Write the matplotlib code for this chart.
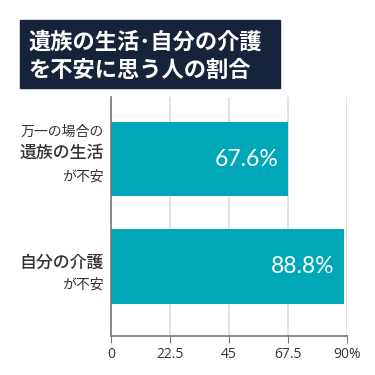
import matplotlib.pyplot as plt
from matplotlib.patches import Rectangle
from matplotlib.transforms import blended_transform_factory

plt.rcParams['font.family'] = ['Noto Sans CJK JP', 'DejaVu Sans']

# data
categories = ['遺族の生活', '自分の介護']
values = [67.6, 88.8]
value_labels = ['67.6%', '88.8%']
ticks = [0, 22.5, 45, 67.5, 90]
tick_labels = ['0', '22.5', '45', '67.5', '90%']
title_lines = ['遺族の生活･自分の介護', 'を不安に思う人の割合']

bar_color = '#00a7b9'
navy = '#17233a'

fig = plt.figure(figsize=(3.75, 3.75), dpi=100)
ax = fig.add_axes([0.296, 0.104, 0.629, 0.637])

ypos = [0, 1]
ax.barh(ypos, values, height=0.69, color=bar_color, zorder=2)
ax.set_ylim(1.647, -0.577)
ax.set_xlim(0, 90)

for y, v, lab in zip(ypos, values, value_labels):
    ax.text(v - 3.5, y, lab, ha='right', va='center', color='white',
            fontsize=16.5, family=['Lato', 'DejaVu Sans'], zorder=3)

ax.set_xticks(ticks)
ax.set_xticklabels(tick_labels, fontsize=10, color='#333333',
                   family=['Open Sans', 'DejaVu Sans'])
ax.set_yticks([])
ax.grid(axis='x', color='#dddddd', lw=1.2, zorder=0)
ax.tick_params(axis='x', length=5, color='#777777', pad=3)
for s in ['top', 'right']:
    ax.spines[s].set_visible(False)
for s in ['left', 'bottom']:
    ax.spines[s].set_color('#777777')
    ax.spines[s].set_linewidth(1.2)

# category labels (multi-line with mixed sizes)
tr = blended_transform_factory(fig.transFigure, ax.transData)
lx = 104 / 375
lab_color = '#333333'
ax.text(lx, -0.25, '万一の場合の', transform=tr, ha='right', va='center',
        fontsize=10, color=lab_color)
ax.text(lx, -0.055, categories[0], transform=tr, ha='right', va='center',
        fontsize=12.2, fontweight='medium', color=lab_color)
ax.text(lx, 0.158, 'が不安', transform=tr, ha='right', va='center',
        fontsize=10, color=lab_color)
ax.text(lx, 1 - 0.033, categories[1], transform=tr, ha='right', va='center',
        fontsize=12.2, fontweight='medium', color=lab_color)
ax.text(lx, 1 + 0.172, 'が不安', transform=tr, ha='right', va='center',
        fontsize=10, color=lab_color)

# title box
fig.patches.append(Rectangle((20 / 375, 1 - 88 / 375), 260 / 375, 68 / 375,
                             transform=fig.transFigure, color=navy, zorder=0))
fig.text(28 / 375, 1 - 42 / 375, title_lines[0], color='white', fontsize=16,
         fontweight='bold', va='center', ha='left')
fig.text(28 / 375, 1 - 70 / 375, title_lines[1], color='white', fontsize=16,
         fontweight='bold', va='center', ha='left')

fig.savefig('out.png', dpi=100)
